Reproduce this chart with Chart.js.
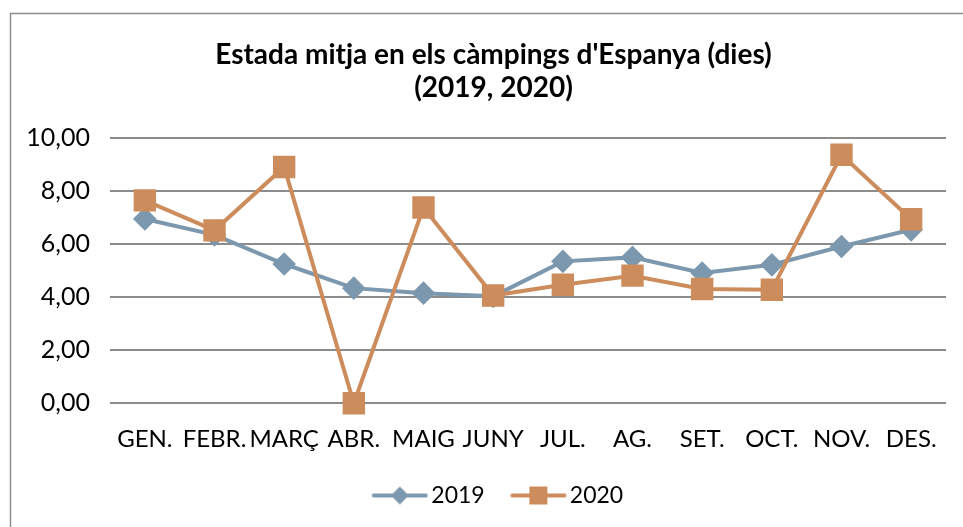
<!DOCTYPE html>
<html>
<head>
<meta charset="utf-8">
<script src="https://cdn.jsdelivr.net/npm/chart.js@4"></script>
<style>
  html, body { margin: 0; padding: 0; background: #fff; }
  #wrap { width: 963px; height: 527px; position: relative; }
</style>
</head>
<body>
<div id="wrap"><canvas id="myChart"></canvas></div>
<script>
var months = ["GEN.", "FEBR.", "MARÇ", "ABR.", "MAIG", "JUNY", "JUL.", "AG.", "SET.", "OCT.", "NOV.", "DES."]
var values2019 = [6.95, 6.35, 5.25, 4.34, 4.15, 4.03, 5.35, 5.50, 4.91, 5.22, 5.91, 6.54]
var values2020 = [7.65, 6.52, 8.91, 0.00, 7.38, 4.06, 4.47, 4.81, 4.31, 4.28, 9.37, 6.94]
var yTicks = [0, 2, 4, 6, 8, 10]

var blue = "#7c98ae"
var orange = "#cd8c5c"
var fontName = "Lato, 'Open Sans', sans-serif"

// legend swatch: short line with the marker in the middle
function makeSwatch(color, shape) {
    var c = document.createElement("canvas")
    c.width = 58
    c.height = 22
    var g = c.getContext("2d")
    g.strokeStyle = color
    g.lineWidth = 4
    g.lineCap = "round"
    g.beginPath()
    g.moveTo(3, 11)
    g.lineTo(55, 11)
    g.stroke()
    g.fillStyle = color
    g.beginPath()
    if (shape == "diamond") {
        g.moveTo(29, 2); g.lineTo(38, 11); g.lineTo(29, 20); g.lineTo(20, 11)
    } else {
        g.rect(20, 2, 18, 18)
    }
    g.fill()
    return c
}

var swatches = [makeSwatch(blue, "diamond"), makeSwatch(orange, "square")]

var frame = {
    id: "frame",
    beforeDraw: function (chart) {
        var ctx = chart.ctx
        ctx.save()
        ctx.fillStyle = "#fff"
        ctx.fillRect(0, 0, chart.width, chart.height)
        ctx.strokeStyle = "#8c8c8c"
        ctx.lineWidth = 1.5
        ctx.strokeRect(10.5, 13.5, chart.width + 20, chart.height + 20)
        ctx.restore()
    },
    // legend sits a little right of centre in the original
    afterLayout: function (chart) {
        if (chart.legend) {
            chart.legend.left += 8
            chart.legend.right += 8
        }
    }
}

chart = new Chart("myChart", {
    type: "line",
    data: {
        labels: months,
        datasets: [{
            label: "2019",
            data: values2019,
            borderColor: blue,
            backgroundColor: blue,
            borderWidth: 4,
            pointStyle: "rectRot",
            pointRadius: 9,
            pointHoverRadius: 9,
            tension: 0,
            clip: false,
            order: 1,
            fill: false
        }, {
            label: "2020",
            data: values2020,
            borderColor: orange,
            backgroundColor: orange,
            borderWidth: 4,
            pointStyle: "rect",
            pointRadius: 13,
            pointHoverRadius: 13,
            tension: 0,
            clip: false,
            order: 0,
            fill: false
        }]
    },
    options: {
        responsive: true,
        maintainAspectRatio: false,
        animation: false,
        layout: { padding: { left: 24, right: 0, top: 13, bottom: 10 } },
        plugins: {
            title: {
                display: true,
                text: ["Estada mitja en els càmpings d'Espanya (dies)", "(2019, 2020)"],
                color: "#000",
                font: { family: fontName, size: 28, weight: "bold", lineHeight: 1.18 },
                padding: { top: 25, bottom: 34 }
            },
            legend: {
                position: "bottom",
                labels: {
                    color: "#000",
                    font: { family: fontName, size: 23 },
                    usePointStyle: true,
                    pointStyleWidth: 40,
                    boxHeight: 22,
                    padding: 16,
                    generateLabels: function (chart) {
                        return chart.data.datasets.map(function (ds, i) {
                            return {
                                text: ds.label + (i == 0 ? "   " : ""),
                                pointStyle: swatches[i],
                                fillStyle: ds.borderColor,
                                strokeStyle: ds.borderColor,
                                lineWidth: 0,
                                fontColor: "#000",
                                datasetIndex: i
                            }
                        })
                    }
                }
            },
            tooltip: { enabled: false }
        },
        scales: {
            x: {
                offset: true,
                grid: { display: false },
                border: { display: false },
                ticks: {
                    color: "#000",
                    font: { family: fontName, size: 24 },
                    maxRotation: 0,
                    autoSkip: false,
                    padding: 14
                }
            },
            y: {
                min: 0,
                max: 10,
                afterBuildTicks: function (axis) {
                    axis.ticks = yTicks.map(function (v) { return { value: v } })
                },
                afterFit: function (axis) { axis.width = 86 },
                grid: { color: "#8c8c8c", lineWidth: 2, drawTicks: false },
                border: { display: false },
                ticks: {
                    color: "#000",
                    font: { family: fontName, size: 25 },
                    padding: 20,
                    callback: function (v) { return v.toFixed(2).replace(".", ",") }
                }
            },
            // empty right-hand strip so the title and legend centre like the original frame
            yRight: {
                position: "right",
                min: 0,
                max: 10,
                afterFit: function (axis) { axis.width = 17 },
                grid: { display: false },
                border: { display: false },
                ticks: { display: false }
            }
        }
    },
    plugins: [frame]
});
</script>
</body>
</html>
